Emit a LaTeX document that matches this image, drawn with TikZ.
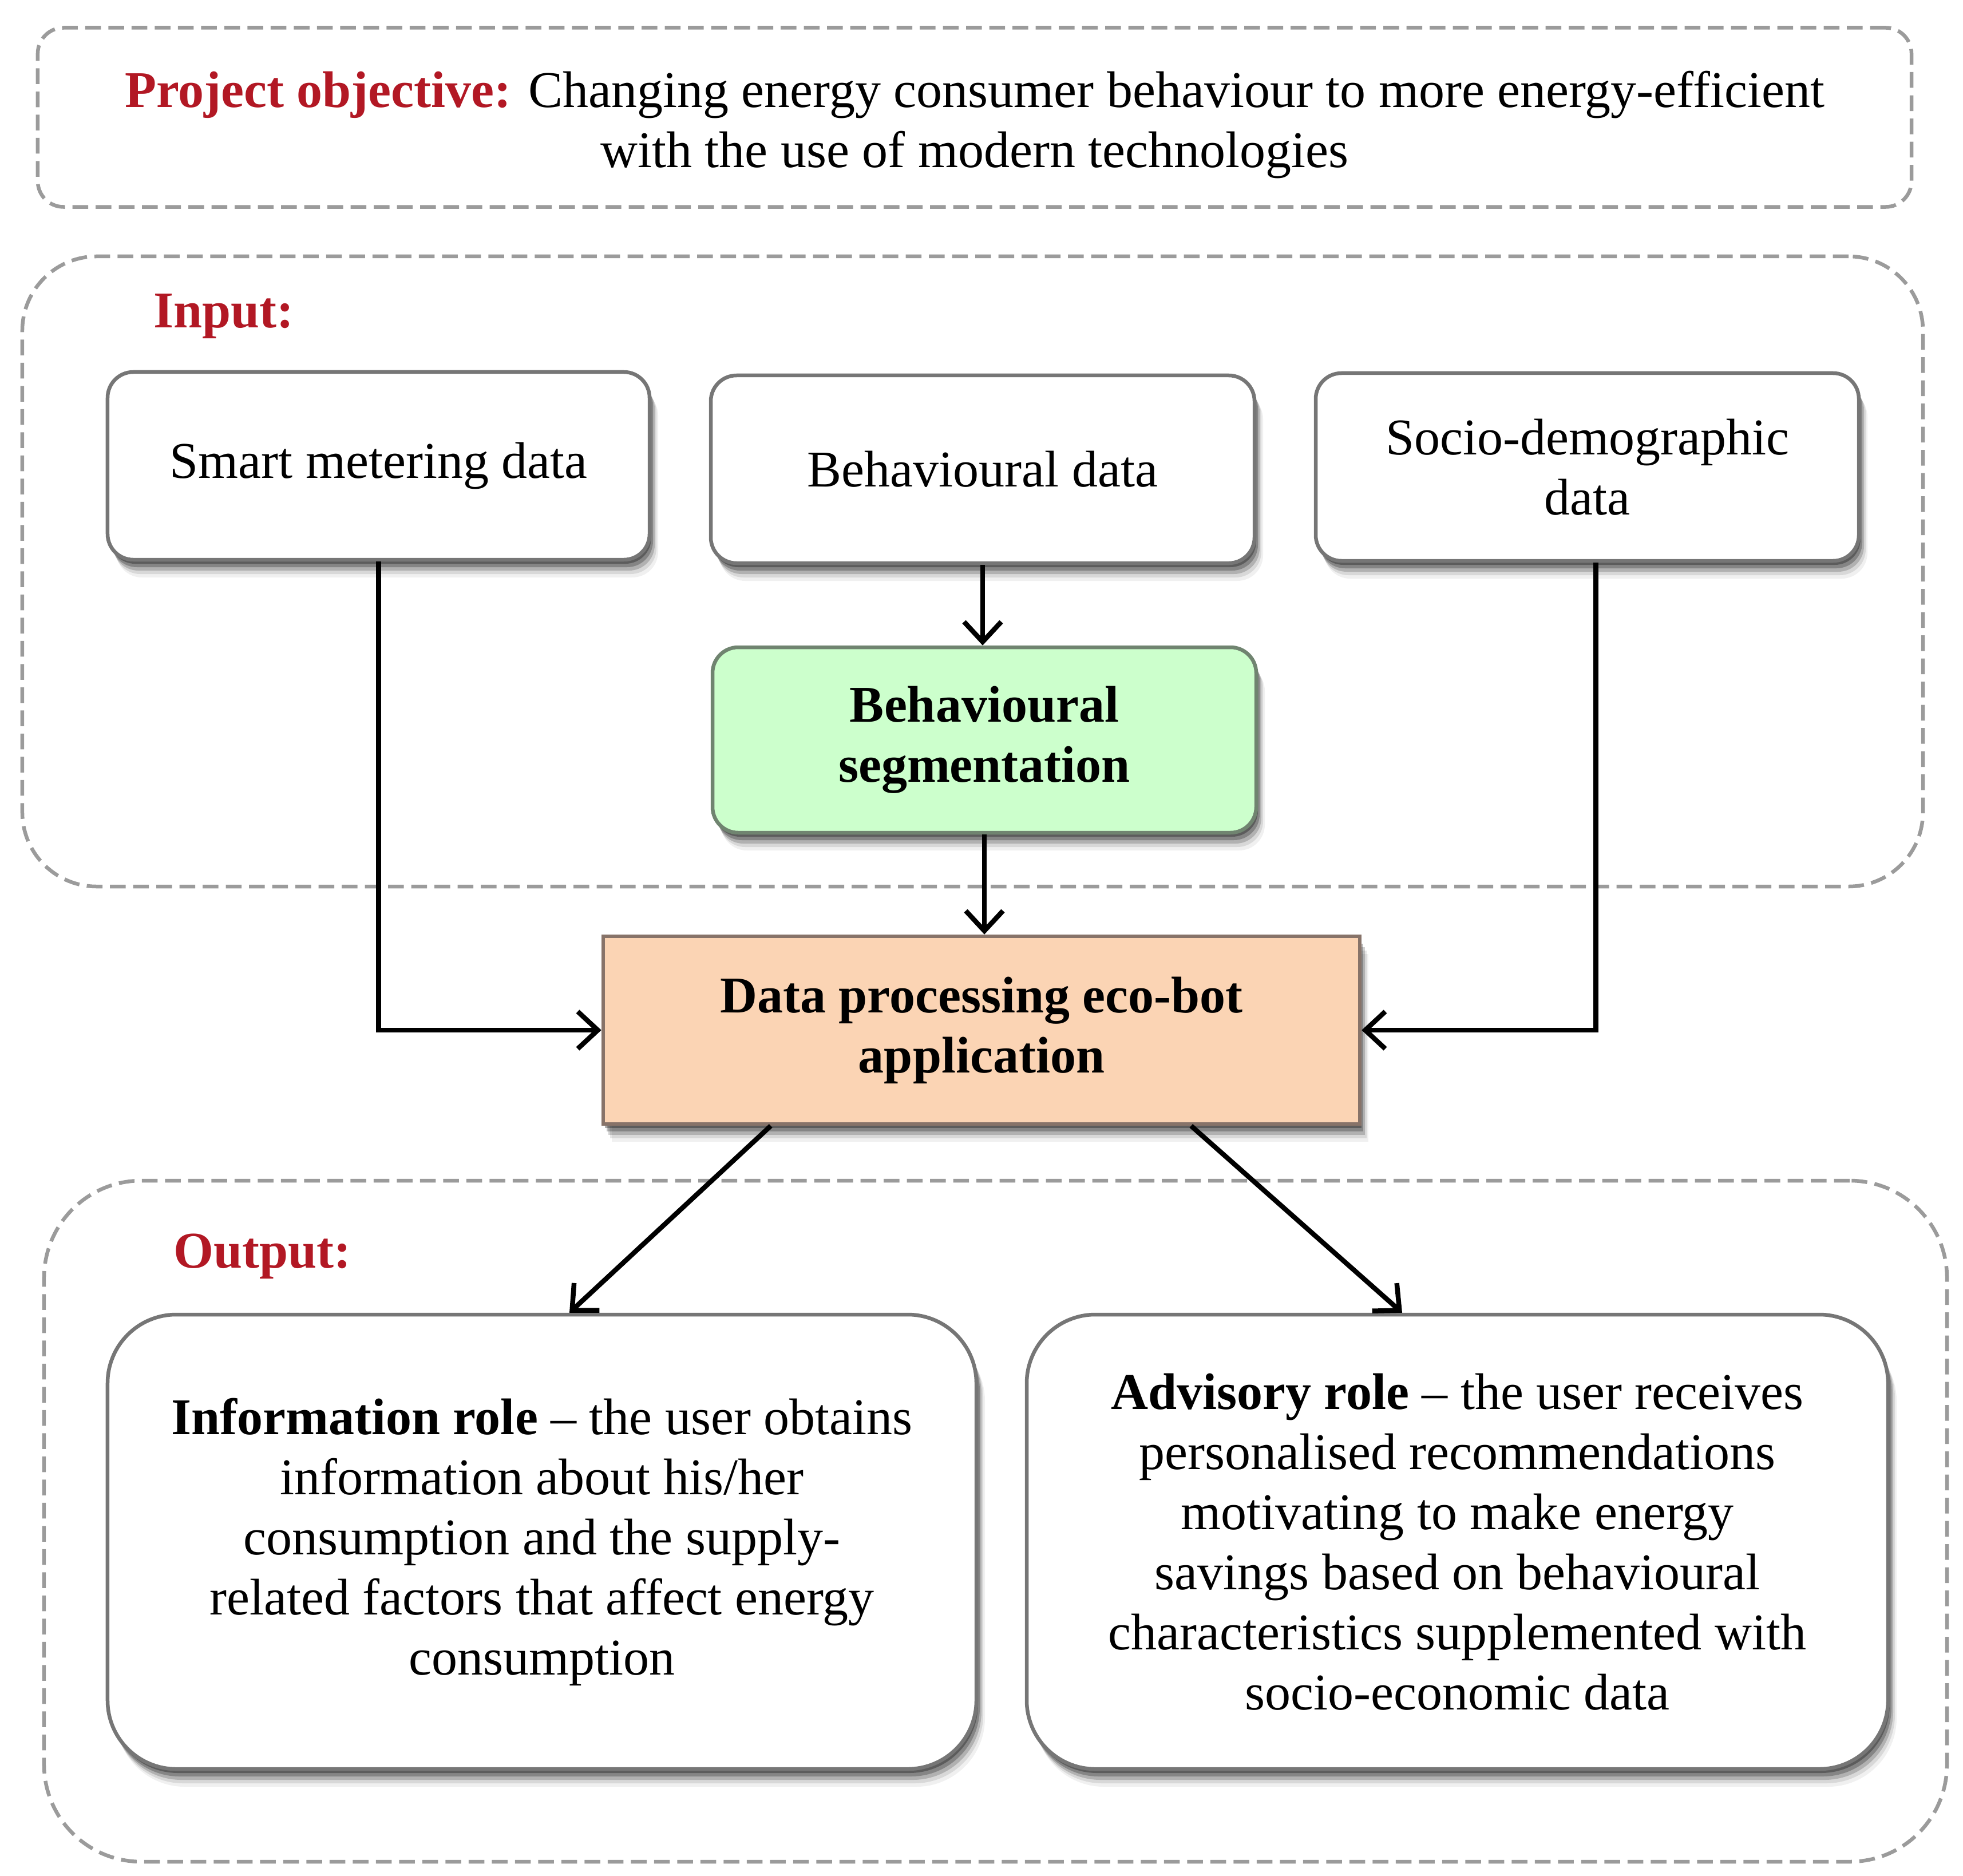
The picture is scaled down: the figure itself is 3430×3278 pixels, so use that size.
\documentclass[tikz,border=0pt]{standalone}
\usepackage{fontspec}
\setmainfont{Liberation Serif}
\usetikzlibrary{arrows.meta,shadows,positioning}
\definecolor{lblred}{RGB}{178,24,36}
\definecolor{dashgray}{RGB}{155,155,155}
\definecolor{boxgray}{RGB}{118,118,118}
\definecolor{segfill}{RGB}{204,255,204}
\definecolor{segdraw}{RGB}{112,132,112}
\definecolor{procfill}{RGB}{251,212,180}
\definecolor{procdraw}{RGB}{135,115,105}
\tikzset{
  txt/.style={font=\fontsize{18}{21}\selectfont, align=center},
  container/.style={draw=dashgray, line width=1.3pt, dash pattern=on 5.5pt off 2.6pt},
  softshadow/.style={
    drop shadow={shadow xshift=0.6pt, shadow yshift=-1.4pt, opacity=0.30, fill=black},
    drop shadow={shadow xshift=1.2pt, shadow yshift=-2.6pt, opacity=0.25, fill=black},
    drop shadow={shadow xshift=1.8pt, shadow yshift=-3.8pt, opacity=0.18, fill=black},
    drop shadow={shadow xshift=2.4pt, shadow yshift=-5.0pt, opacity=0.10, fill=black},
    drop shadow={shadow xshift=3.0pt, shadow yshift=-6.2pt, opacity=0.06, fill=black}},
  databox/.style={txt, draw=boxgray, line width=1.3pt, fill=white, rounded corners=9pt, softshadow},
  rolebox/.style={txt, draw=boxgray, line width=1.3pt, fill=white, rounded corners=24pt, softshadow,
     minimum height=158.8pt},
  segbox/.style={txt, font=\fontsize{18}{21}\selectfont\bfseries, draw=segdraw, line width=1.3pt,
     fill=segfill, rounded corners=9pt, softshadow, minimum width=190pt, minimum height=64.8pt},
  procbox/.style={txt, font=\fontsize{18}{21}\selectfont\bfseries, draw=procdraw, line width=1.3pt,
     fill=procfill, softshadow, minimum width=264.4pt, minimum height=65.6pt},
  lbl/.style={font=\fontsize{18}{21}\selectfont\bfseries, text=lblred, anchor=west, inner sep=0pt},
  arr/.style={line width=1.7pt, -{Straight Barb[length=7pt,width=13pt]}}
}
\begin{document}
\begin{tikzpicture}[x=0.2pt,y=-0.2pt]
\useasboundingbox (0,0) rectangle (3430,3278);
% containers
\node[container, rounded corners=9pt, minimum width=654.8pt, minimum height=62.6pt] (obj) at (1703,205) {};
\node[txt] (objtxt) at (1703,218)
  {{\color{lblred}\bfseries Project objective:} Changing energy consumer behaviour to more energy-efficient\\with the use of modern technologies};
\node[container, rounded corners=26pt, minimum width=664.2pt, minimum height=220.2pt] (inbox) at (1699.5,998.5) {};
\node[container, rounded corners=34pt, minimum width=665pt, minimum height=238pt] (outbox) at (1739.5,2658) {};
\node[lbl] (inlbl) at (267,553) {Input:};
\node[lbl] (outlbl) at (302,2195) {Output:};
% data boxes
\node[databox, minimum width=189.4pt, minimum height=65.6pt] (smart) at (661.5,814) {Smart metering data};
\node[databox, minimum width=190pt, minimum height=65.6pt] (bdata) at (1717,820) {Behavioural data};
\node[databox, minimum width=189.8pt, minimum height=65.6pt] (socio) at (2773.5,816) {Socio-demographic\\data};
\node[segbox] (seg) at (1720,1293) {Behavioural\\segmentation};
\node[procbox] (proc) at (1715,1800) {Data processing eco-bot\\application};
\node[rolebox, minimum width=303.6pt] (info) at (947,2694)
  {\textbf{Information role} – the user obtains\\information about his/her\\consumption and the supply-\\related factors that affect energy\\consumption};
\node[rolebox, minimum width=301pt] (adv) at (2546.5,2694)
  {\textbf{Advisory role} – the user receives\\personalised recommendations\\motivating to make energy\\savings based on behavioural\\characteristics supplemented with\\socio-economic data};
% connectors
\draw[arr] (bdata.south) -- (bdata.south |- seg.north);
\draw[arr] (seg.south) -- (seg.south |- proc.north);
\draw[arr] (smart.south) |- (proc.west);
\draw[arr] ([xshift=3pt]socio.south) |- (proc.east);
\draw[arr] ([xshift=59.2pt]proc.south west) -- ([xshift=9.6pt]info.north);
\draw[arr] ([xshift=-59.6pt]proc.south east) -- ([xshift=-19.3pt]adv.north);
\end{tikzpicture}
\end{document}
